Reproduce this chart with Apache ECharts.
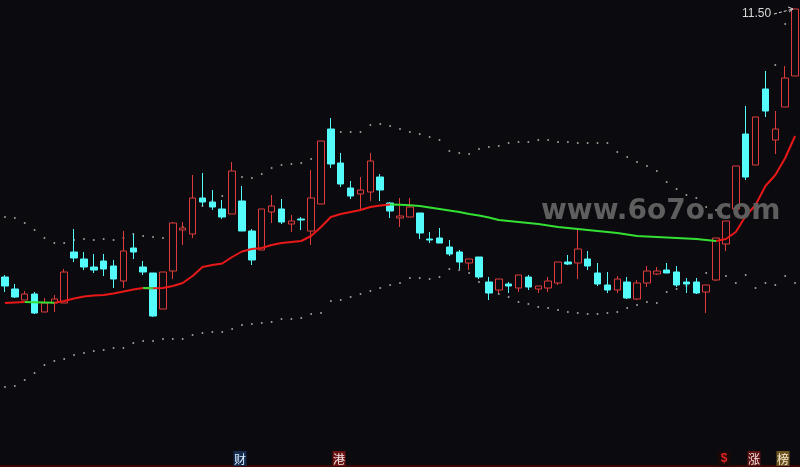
<!DOCTYPE html>
<html><head><meta charset="utf-8">
<script src="https://cdn.jsdelivr.net/npm/echarts@6/dist/echarts.min.js"></script>
<style>html,body{margin:0;padding:0;background:#0b0b0f;}#c{width:800px;height:467px;}</style>
</head><body><div id="c"></div>
<script>
const categories = Array.from({length:81},(_, i)=>String(i+1));
const opens  = [6.14,5.90,5.68,5.80,5.44,5.62,5.62,6.64,6.50,6.34,6.46,6.36,6.06,6.72,6.34,6.22,5.50,6.26,7.08,7.00,
7.72,7.64,7.50,7.40,7.66,7.06,6.68,7.44,7.50,7.20,7.30,7.06,7.60,9.10,8.42,7.92,7.80,7.84,8.14,7.62,
7.32,7.34,7.42,6.90,6.92,6.74,6.64,6.42,6.54,6.04,5.88,6.00,5.92,6.14,5.90,5.92,6.02,6.44,6.42,6.50,
6.22,5.98,5.88,6.04,5.70,6.02,6.20,6.28,6.24,6.04,6.04,5.84,6.08,6.80,7.50,9.00,8.38,9.90,8.88,9.54,10.16];
const closes = [5.96,5.74,5.80,5.42,5.62,5.70,6.24,6.52,6.34,6.28,6.30,6.10,6.66,6.64,6.24,5.36,6.24,7.22,7.12,7.72,
7.64,7.54,7.34,8.26,7.06,6.48,7.50,7.56,7.24,7.26,7.28,7.72,8.86,8.40,8.00,7.76,7.88,8.46,7.88,7.46,
7.36,7.54,7.02,6.88,6.82,6.60,6.44,6.50,6.14,5.82,6.10,5.96,6.18,5.94,5.96,6.06,6.44,6.40,6.70,6.36,
6.00,5.88,6.10,5.72,6.02,6.26,6.26,6.22,5.98,6.00,5.82,5.98,6.92,7.26,8.36,8.14,9.34,9.46,9.10,10.12,11.50];
const lows   = [5.84,5.72,5.68,5.40,5.44,5.44,5.62,6.44,6.28,6.22,6.16,5.92,5.92,6.50,6.18,5.34,5.50,6.10,6.78,6.92,
7.56,7.48,7.30,7.40,7.06,6.38,6.68,7.22,7.20,7.04,7.08,6.78,7.60,8.32,7.94,7.70,7.50,7.66,7.66,7.32,
7.14,7.34,6.90,6.82,6.82,6.56,6.30,6.28,6.10,5.68,5.82,5.82,5.84,5.88,5.82,5.84,5.98,6.38,6.10,6.28,
5.96,5.82,5.82,5.70,5.68,5.94,6.18,6.22,5.94,5.82,5.80,5.42,6.06,6.66,7.38,8.08,8.38,9.34,8.60,9.54,10.16];
const highs  = [6.18,6.00,5.86,5.84,5.72,5.78,6.30,7.10,6.64,6.60,6.60,6.48,7.06,7.00,6.46,6.22,6.24,7.24,7.24,8.18,
8.22,7.88,7.68,8.44,7.96,7.10,7.50,7.78,7.70,7.38,7.34,8.28,8.86,9.32,8.62,8.06,8.14,8.62,8.20,7.64,
7.72,7.72,7.42,7.04,7.12,6.88,6.68,6.50,6.54,6.14,6.10,6.04,6.18,6.18,5.96,6.14,6.44,6.58,7.10,6.66,
6.42,6.24,6.16,6.14,6.08,6.36,6.34,6.42,6.36,6.12,6.12,5.98,6.92,7.26,8.36,9.56,9.34,10.26,9.46,10.36,11.50];
const maLine = [5.62,5.63,5.64,5.635,5.63,5.625,5.66,5.71,5.75,5.77,5.78,5.81,5.85,5.89,5.92,5.915,5.92,5.96,6.02,6.16,
6.34,6.38,6.41,6.54,6.65,6.70,6.72,6.78,6.82,6.84,6.86,6.96,7.14,7.34,7.40,7.44,7.48,7.54,7.57,7.59,
7.585,7.575,7.56,7.53,7.50,7.47,7.44,7.40,7.37,7.33,7.28,7.26,7.24,7.22,7.20,7.17,7.14,7.12,7.10,7.08,
7.06,7.04,7.02,6.99,6.96,6.95,6.94,6.93,6.92,6.91,6.90,6.88,6.86,6.90,7.04,7.36,7.58,7.96,8.18,8.52,8.96];
const upperBand = [7.34,7.32,7.22,7.08,6.92,6.82,6.82,6.88,6.90,6.88,6.90,6.88,6.92,7.00,6.96,6.94,6.92,7.06,7.14,7.44,
7.56,7.66,7.76,8.10,8.14,8.12,8.20,8.32,8.38,8.40,8.42,8.50,8.82,8.96,9.04,9.04,9.04,9.18,9.20,9.16,
9.10,9.04,9.00,8.94,8.88,8.66,8.62,8.60,8.70,8.74,8.76,8.82,8.84,8.84,8.88,8.88,8.84,8.84,8.82,8.82,
8.82,8.82,8.64,8.54,8.44,8.36,8.26,8.04,7.90,7.78,7.72,7.54,7.48,7.58,8.08,8.68,9.22,9.78,10.38,11.20,11.98];
const lowerBand = [3.94,3.96,4.08,4.22,4.38,4.46,4.50,4.58,4.62,4.66,4.68,4.72,4.72,4.82,4.86,4.86,4.90,4.90,4.90,4.98,
5.02,5.04,5.04,5.10,5.18,5.20,5.22,5.24,5.30,5.30,5.32,5.40,5.42,5.66,5.68,5.74,5.80,5.86,5.92,5.98,
6.02,6.12,6.12,6.10,6.14,6.30,6.28,6.22,6.04,5.88,5.80,5.74,5.64,5.60,5.54,5.52,5.48,5.44,5.42,5.40,
5.40,5.42,5.44,5.52,5.58,5.64,5.62,5.84,5.90,5.96,6.02,6.22,6.16,6.16,6.02,6.18,5.92,6.02,5.98,6.16,6.02];
const markerIdx  = [24, 34, 73, 76, 79];
const markerText = ['财','港','$','涨','榜'];
const watermark = 'www.6o7o.com';

const markerStyle = [
  {bg:'#172a4c', fg:'#d6ecff'},
  {bg:'#6a1212', fg:'#f4e6e6'},
  {bg:'#1a0808', fg:'#e02424'},
  {bg:'#5c1212', fg:'#f4dede'},
  {bg:'#6e5420', fg:'#f6ead0'}
];

const chart = echarts.init(document.getElementById('c'), null, {renderer:'canvas'});
const candleData = categories.map((_, i) => [opens[i], closes[i], lows[i], highs[i]]);
const maRed = maLine.map((v, i) => {
  const upPrev = i > 0 && maLine[i] > maLine[i-1];
  const upNext = i < maLine.length-1 && maLine[i+1] > maLine[i];
  return (upPrev || upNext) ? v : null;
});
const maGreen = maLine.map((v, i) => {
  const dnPrev = i > 0 && maLine[i] <= maLine[i-1];
  const dnNext = i < maLine.length-1 && maLine[i+1] <= maLine[i];
  return (dnPrev || dnNext) ? v : null;
});

chart.setOption({
  backgroundColor: '#0b0b0f',
  animation: false,
  grid: {left: -1, right: -1, top: 0, bottom: 0},
  xAxis: {type:'category', data: categories, show: false, boundaryGap: true},
  yAxis: {type:'value', min: 2.34, max: 11.68, show: false, splitLine:{show:false}},
  series: [
    {type:'scatter', data: upperBand, symbolSize: 2, itemStyle:{color:'#c4c0b0'}, z: 1, silent: true},
    {type:'scatter', data: lowerBand, symbolSize: 2, itemStyle:{color:'#c4c4c4'}, z: 1, silent: true},
    {type:'candlestick', data: candleData, barWidth: 7, z: 2,
      itemStyle:{color:'#0b0b0f', color0:'#54fcfc', borderColor:'#de3c3c', borderColor0:'#54fcfc', borderWidth:1}},
    {type:'line', data: maRed, showSymbol:false, connectNulls:false, z: 3,
      lineStyle:{color:'#e81818', width:2}},
    {type:'line', data: maGreen, showSymbol:false, connectNulls:false, z: 3,
      lineStyle:{color:'#33e033', width:2}}
  ]
});

const graphics = [];
// watermark
graphics.push({type:'text', left: 541, top: 198, z: 50,
  style:{text: watermark, font:'bold 28px "DejaVu Sans"', fill:'#5e5e5e'}});
// max label
let mi = 0; highs.forEach((h, i) => { if (h > highs[mi]) mi = i; });
const mp = chart.convertToPixel({gridIndex:0}, [mi, highs[mi]]);
graphics.push({type:'text', z: 60, x: mp[0]-24, y: mp[1]+5,
  style:{text: highs[mi].toFixed(2), font:'12px "Liberation Sans"', fill:'#d8d8d8', align:'right', verticalAlign:'middle'}});
graphics.push({type:'line', z: 60, shape:{x1: mp[0]-21, y1: mp[1]+5, x2: mp[0]-2, y2: mp[1]},
  style:{stroke:'#d8d8d8', lineWidth:1, lineDash:[3,2]}});
graphics.push({type:'polyline', z: 60, shape:{points:[[mp[0]-7, mp[1]-2],[mp[0]-2, mp[1]],[mp[0]-6, mp[1]+3]]},
  style:{stroke:'#d8d8d8', lineWidth:1, fill:null}});
// bottom line
graphics.push({type:'rect', z: 40, shape:{x:0, y:465, width:800, height:2}, style:{fill:'#3a0606'}});
// markers
markerIdx.forEach((idx, k) => {
  const p = chart.convertToPixel({gridIndex:0}, [idx, 3]);
  const cx = Math.round(p[0]) - 2;
  graphics.push({type:'rect', z: 45, shape:{x: cx-6.5, y: 451, width: 13, height: 15}, style:{fill: markerStyle[k].bg}});
  graphics.push({type:'text', z: 46, x: cx, y: 459,
    style:{text: markerText[k], font: (markerText[k]==='$' ? 'bold 12px "Liberation Sans"' : '12px "Noto Sans CJK SC"'),
      fill: markerStyle[k].fg, align:'center', verticalAlign:'middle'}});
});
chart.setOption({graphic: graphics});
</script>
</body></html>
